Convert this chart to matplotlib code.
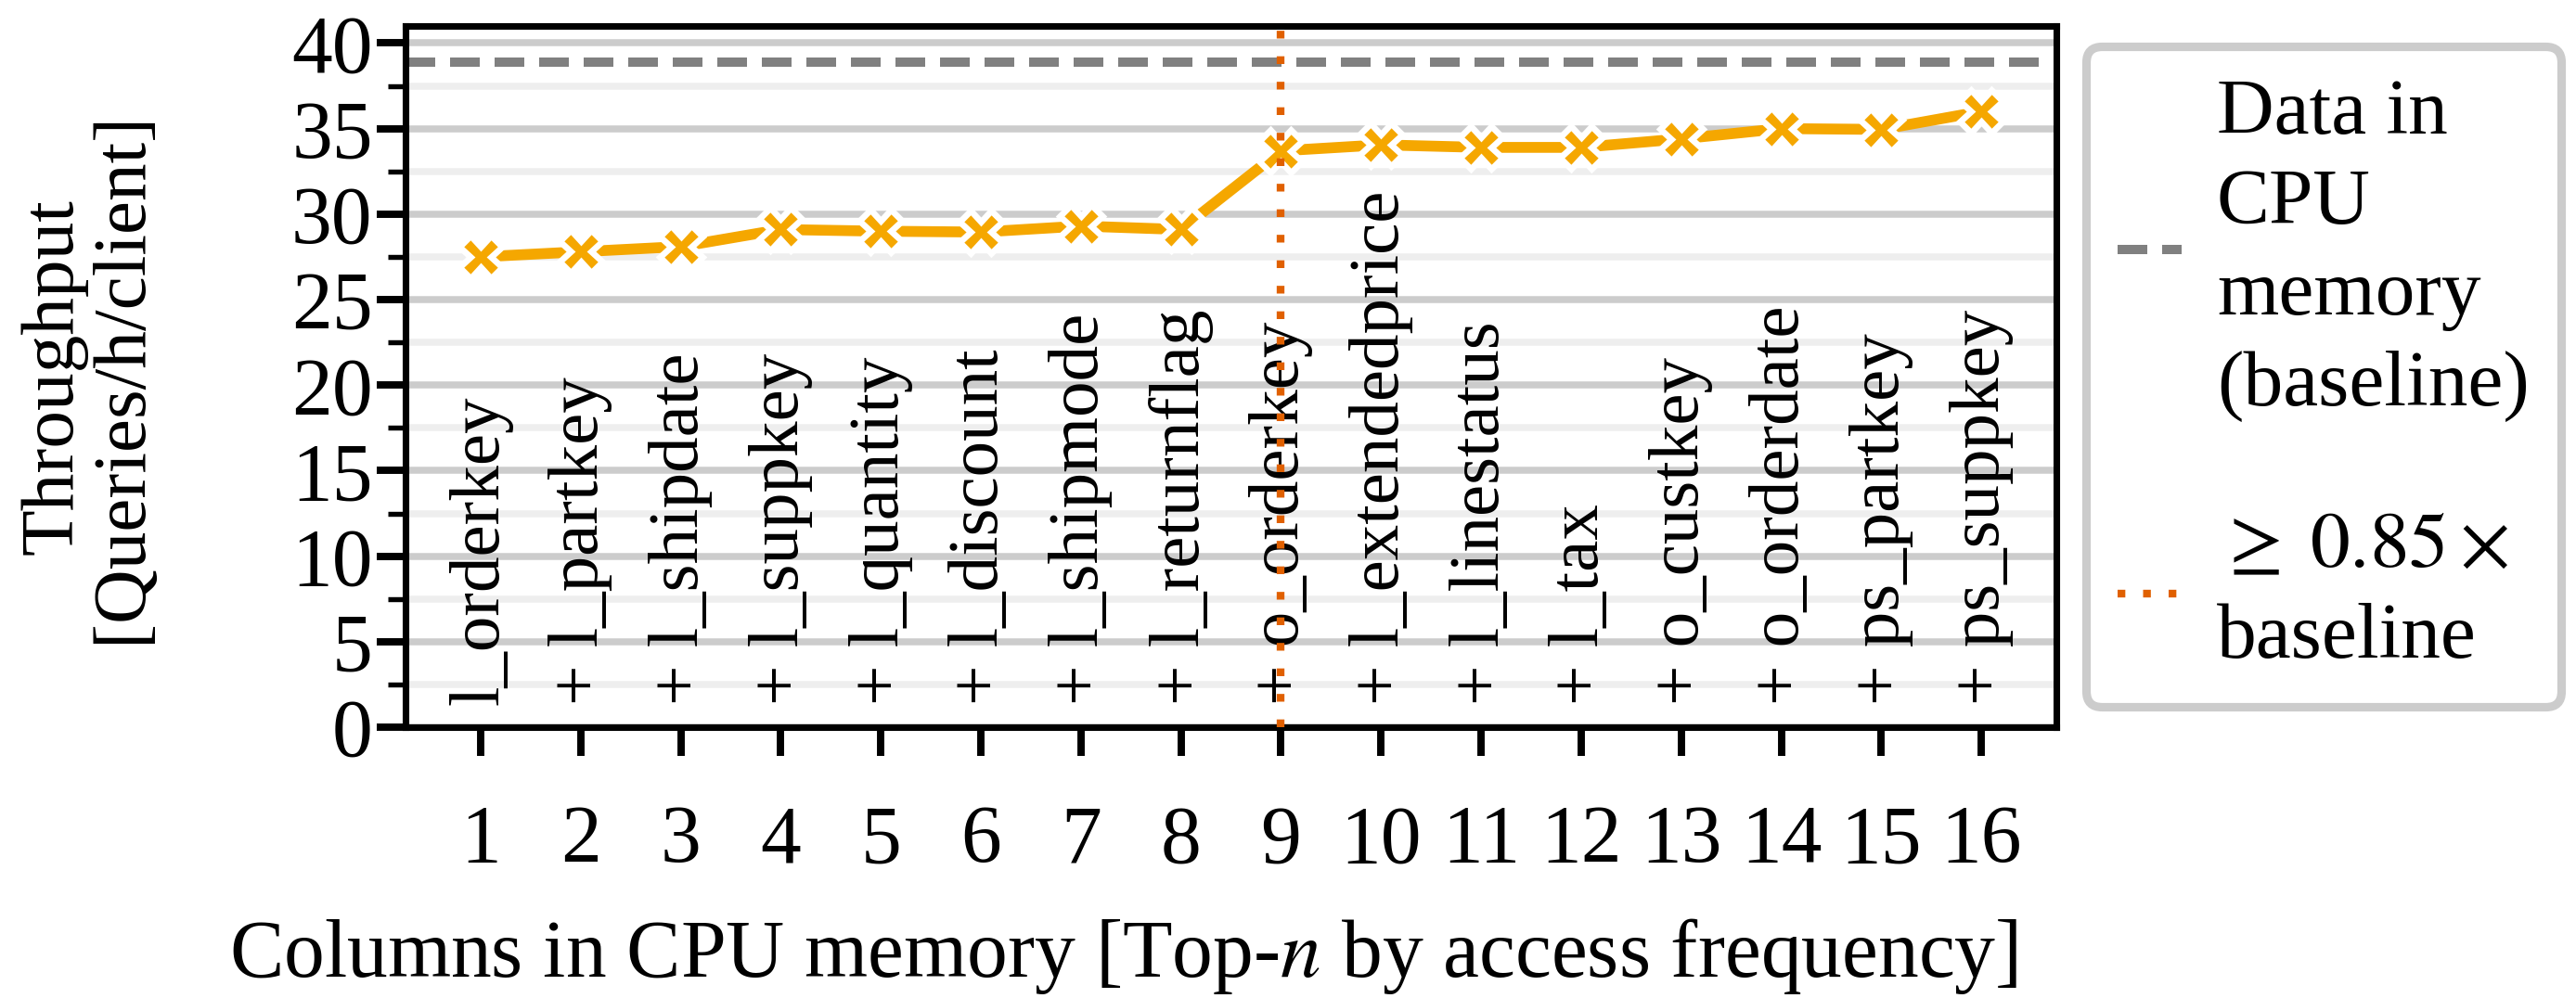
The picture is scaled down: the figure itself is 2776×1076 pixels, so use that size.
import matplotlib
matplotlib.use("Agg")
import matplotlib.pyplot as plt
from matplotlib.ticker import MultipleLocator

# Data
n_columns = list(range(1, 17))
column_names = [
    "l_orderkey", "l_partkey", "l_shipdate", "l_suppkey", "l_quantity",
    "l_discount", "l_shipmode", "l_returnflag", "o_orderkey",
    "l_extendedprice", "l_linestatus", "l_tax", "o_custkey", "o_orderdate",
    "ps_partkey", "ps_suppkey",
]
throughput = [27.5, 27.8, 28.1, 29.1, 29.0, 28.95, 29.3, 29.1,
              33.7, 34.05, 33.9, 33.9, 34.4, 35.0, 34.95, 36.0]
baseline_throughput = 38.9
threshold_n = 9
ylabel_lines = ["Throughput", "[Queries/h/client]"]

line_color = "#f5a700"
threshold_color = "#e06000"
baseline_color = "#808080"

plt.rcParams["font.family"] = ["Liberation Serif", "DejaVu Serif"]
plt.rcParams["mathtext.fontset"] = "stix"
plt.rcParams["font.size"] = 21

fig = plt.figure(figsize=(2776 / 300, 1076 / 300), dpi=300)
ax = fig.add_axes([437 / 2776, 1 - 784 / 1076, (2216 - 437) / 2776, (784 - 28) / 1076])

# Grid
ax.set_axisbelow(True)
ax.yaxis.set_major_locator(MultipleLocator(5))
ax.yaxis.set_minor_locator(MultipleLocator(2.5))
ax.grid(axis="y", which="major", color="#cccccc", linewidth=1.8, zorder=0)
ax.grid(axis="y", which="minor", color="#eeeeee", linewidth=1.8, zorder=0)

# Baseline and threshold
ax.axhline(baseline_throughput, color=baseline_color, linewidth=2.4,
           dashes=(3.2, 1.6), zorder=2, label="Data in\nCPU\nmemory\n(baseline)")
ax.axvline(threshold_n, color=threshold_color, linewidth=2.0,
           dashes=(1, 2.3), zorder=4, label="$\\geq\\;0.85\\times$\nbaseline")

# Throughput line
ax.plot(n_columns, throughput, color=line_color, linewidth=2.8,
        marker="X", markersize=11, markeredgecolor="white",
        markeredgewidth=1.6, zorder=3)

# Column names inside the plot
for i, name in zip(n_columns, column_names):
    text = name if i == 1 else "+ " + name
    ax.text(i, 1.3, text, rotation=90, ha="center", va="bottom",
            fontsize=18.5, zorder=1)

ax.set_xlim(0.25, 16.75)
ax.set_ylim(0, 41)
ax.set_xticks(n_columns)

for spine in ax.spines.values():
    spine.set_linewidth(1.7)
ax.tick_params(axis="both", which="major", length=7.5, width=1.9)
ax.tick_params(axis="y", which="minor", length=4.5, width=1.3)
ax.tick_params(axis="x", pad=12.5)
ax.tick_params(axis="y", pad=1)

# Two-line y label with tight line spacing
for x_pos, line in zip([-0.213, -0.172], ylabel_lines):
    ax.text(x_pos, 0.5, line, transform=ax.transAxes, rotation=90,
            ha="center", va="center", fontsize=19.5)

ax.set_xlabel("Columns in CPU memory [Top-$n$ by access frequency]", fontsize=21)
ax.xaxis.set_label_coords(0.435, -0.27)

leg = ax.legend(loc="center left", bbox_to_anchor=(1.018, 0.5),
                borderaxespad=0, handlelength=0.8, handletextpad=0.45,
                fancybox=True, framealpha=1, edgecolor="#cccccc",
                labelspacing=1.15, borderpad=0.4, fontsize=20.5)
leg.get_frame().set_linewidth(2.2)
for t in leg.get_texts():
    t.set_linespacing(1.35)

fig.savefig("out.png", dpi=300)
